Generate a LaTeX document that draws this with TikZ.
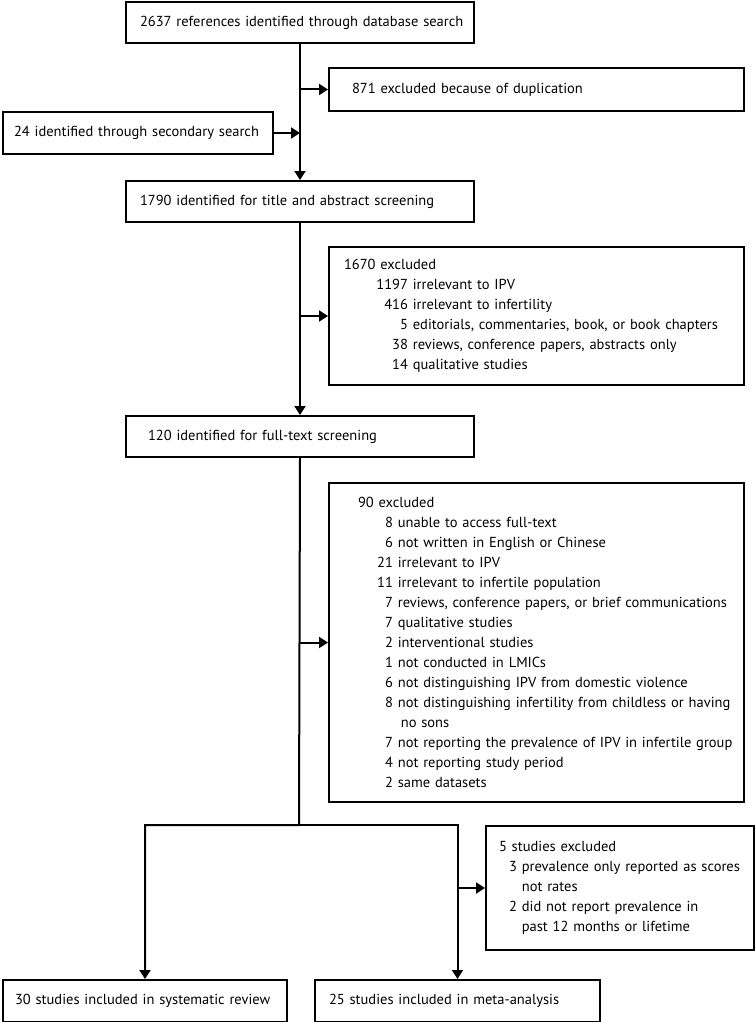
\documentclass[tikz,border=0pt]{standalone}
\usepackage{fontspec}
\setmainfont{PT Sans}
\usepackage{tikz}
\usetikzlibrary{arrows.meta}
\newcommand{\exitem}[3]{\mbox{\makebox[#1][r]{#2}\ #3}}

\begin{document}
\begin{tikzpicture}[x=1pt,y=-1pt,>={Triangle[length=9pt,width=11pt]},line width=2pt,
    box/.style 2 args={draw, anchor=north west, align=left, text width=#1, inner xsep=#2, inner ysep=0pt, font=\fontsize{14.5}{20}\selectfont}]
    \useasboundingbox (0,0) rectangle (755,1022);
	\node [box={320pt}{14pt}, minimum height=41pt] (db) at (125,1) {\mbox{2637 references identified through database search}};
	\node [box={369pt}{23pt}, minimum height=43pt] (dup) at (328,67) {871 excluded because of duplication};
	\node [box={248pt}{11pt}, minimum height=42pt] (sec) at (2,111) {24 identified through secondary search};
	\node [box={320pt}{14pt}, minimum height=41pt] (title) at (125,180) {1790 identified for title and abstract screening};

	\node [box={385pt}{15pt}, minimum height=138pt] (ex1) at (328,246) {1670 excluded\\
	  \exitem{64pt}{1197}{irrelevant to IPV}\\
	  \exitem{64pt}{416}{irrelevant to infertility}\\
	  \exitem{64pt}{5}{editorials, commentaries, book, or book chapters}\\
	  \exitem{64pt}{38}{reviews, conference papers, abstracts only}\\
	  \exitem{64pt}{14}{qualitative studies}};

	\node [box={304pt}{22pt}, minimum height=41pt] (full) at (125,415) {120 identified for full-text screening};

	\node [box={357pt}{29pt}, minimum height=319pt] (ex2) at (328,482) {90 excluded\\
	  \exitem{35pt}{8}{unable to access full-text}\\
	  \exitem{35pt}{6}{not written in English or Chinese}\\
	  \exitem{35pt}{21}{irrelevant to IPV}\\
	  \exitem{35pt}{11}{irrelevant to infertile population}\\
	  \exitem{35pt}{7}{reviews, conference papers, or brief communications}\\
	  \exitem{35pt}{7}{qualitative studies}\\
	  \exitem{35pt}{2}{interventional studies}\\
	  \exitem{35pt}{1}{not conducted in LMICs}\\
	  \exitem{35pt}{6}{not distinguishing IPV from domestic violence}\\
	  \exitem{35pt}{8}{not distinguishing infertility from childless or having}\\
	  \exitem{38pt}{}{no sons}\\
	  \exitem{35pt}{7}{not reporting the prevalence of IPV in infertile group}\\
	  \exitem{35pt}{4}{not reporting study period}\\
	  \exitem{35pt}{2}{same datasets}};

	\node [box={242pt}{13pt}, minimum height=124pt] (ex3) at (485,825) {5 studies excluded\\
	  \exitem{18pt}{3}{prevalence only reported as scores}\\
	  \exitem{18pt}{}{not rates}\\
	  \exitem{18pt}{2}{did not report prevalence in}\\
	  \exitem{18pt}{}{past 12 months or lifetime}};

	\node [box={260pt}{12pt}, minimum height=42pt] (rev) at (2,979) {30 studies included in systematic review};
	\node [box={257pt}{14pt}, minimum height=42pt] (meta) at (314,979) {25 studies included in meta-analysis};

	\coordinate (split) at (299,825);
	\draw [->] (db) -- (title);
	\draw [->] (db.south |- dup.west) -- (dup.west);
	\draw [->] (sec.east) -- (sec.east -| db.south);
	\draw [->] (title) -- (full);
	\draw [->] (title.south |- ex1.west) -- (ex1.west);
	\draw [->] (full.south |- ex2.west) -- (ex2.west);
	\draw [->] (full.south) -- (split) -| (rev.north);
	\draw [->] (split) -| (meta.north);
	\draw [->] (meta.north |- ex3.west) -- (ex3.west);
\end{tikzpicture}
\end{document}
